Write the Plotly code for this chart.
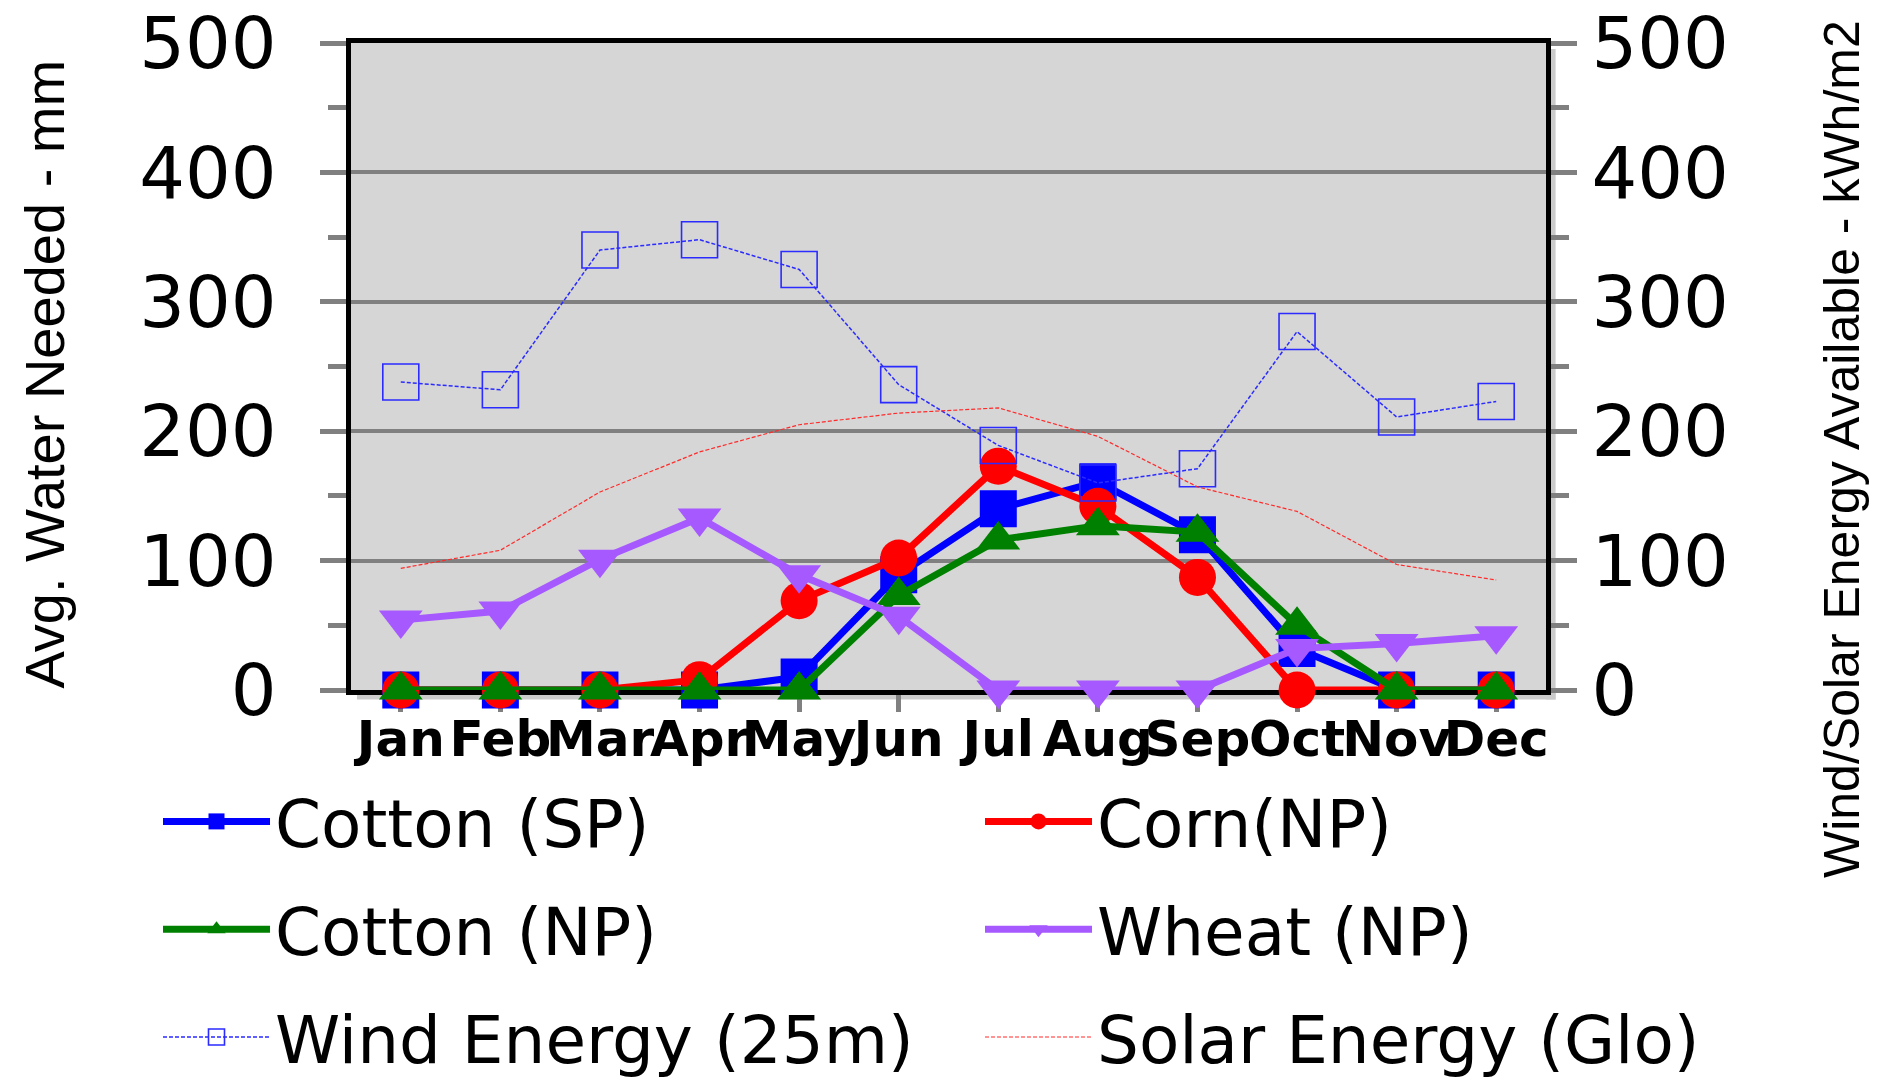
import plotly.graph_objects as go

# Monthly values
months = ["Jan", "Feb", "Mar", "Apr", "May", "Jun", "Jul", "Aug", "Sep", "Oct", "Nov", "Dec"]
cotton_sp = [0, 0, 0, 0, 10, 89, 140, 161, 120, 32, 0, 0]
corn_np = [0, 0, 0, 8, 69, 102, 173, 142, 87, 0, 0, 0]
cotton_np = [0, 0, 0, 0, 0, 73, 116, 127, 122, 50, 0, 0]
wheat_np = [54, 61, 101, 133, 89, 57, 0, 0, 0, 32, 36, 42]
wind_25m = [238, 232, 340, 348, 325, 236, 189, 160, 171, 277, 211, 223]
solar_glo = [94, 108, 153, 184, 205, 214, 218, 196, 157, 138, 97, 85]

W, H = 1899, 1085
L, R, T, B = 351, 353, 43, 395
PW, PH = W - L - R, H - T - B

GRID = "#808080"
TICKFONT = dict(family="DejaVu Sans", size=72, color="black")
TITLEFONT = dict(family="Liberation Sans, Arial, sans-serif", size=56, color="black")

fig = go.Figure()

crops = [
    ("Cotton (SP)", cotton_sp, "#0000ff", "square", 37, "legend"),
    ("Corn(NP)", corn_np, "#ff0000", "circle", 37, "legend2"),
    ("Cotton (NP)", cotton_np, "#008000", "triangle-up", 38, "legend"),
    ("Wheat (NP)", wheat_np, "#a659ff", "triangle-down", 38, "legend2"),
]
for name, vals, color, symbol, size, leg in crops:
    fig.add_trace(go.Scatter(
        x=months, y=vals, name=name, mode="lines+markers",
        line=dict(color=color, width=7),
        marker=dict(symbol=symbol, size=size, color=color, line=dict(width=0)),
        legend=leg, legendgroup=name, cliponaxis=False,
    ))

fig.add_trace(go.Scatter(
    x=months, y=wind_25m, name="Wind Energy (25m)", mode="lines+markers", yaxis="y2",
    line=dict(color="#2b2bff", width=1.5, dash="4px,2px"),
    marker=dict(symbol="square-open", size=36, color="#2b2bff", line=dict(width=1.6)),
    legend="legend", legendgroup="wind", cliponaxis=False,
))
fig.add_trace(go.Scatter(
    x=months, y=solar_glo, name="Solar Energy (Glo)", mode="lines", yaxis="y2",
    line=dict(color="#ff2a2a", width=1.2, dash="4px,2px"),
    legend="legend2", legendgroup="solar", cliponaxis=False,
))

tick_common = dict(ticks="outside", tickwidth=5, tickcolor=GRID)
minor_out = dict(ticks="outside", ticklen=18, tickwidth=5, tickcolor=GRID, dtick=50, showgrid=False)
minor_in = dict(ticks="inside", ticklen=18, tickwidth=5, tickcolor=GRID, dtick=50, showgrid=False)

legend_common = dict(
    xref="container", yref="container", xanchor="left", yanchor="top",
    font=dict(family="DejaVu Sans", size=66, color="black"),
    bgcolor="rgba(0,0,0,0)", borderwidth=0, tracegroupgap=19,
    itemwidth=107, itemsizing="trace",
)

fig.update_layout(
    width=W, height=H,
    margin=dict(l=L, r=R, t=T, b=B, pad=0, autoexpand=False),
    paper_bgcolor="white", plot_bgcolor="#d6d6d6",
    showlegend=True,
    xaxis=dict(
        type="category", categoryorder="array", categoryarray=months,
        range=[-0.5, len(months) - 0.5],
        showline=True, linecolor="black", linewidth=5, mirror=True,
        showgrid=False, zeroline=False, layer="below traces",
        ticklen=17, ticklabelstandoff=-16, tickangle=0, **tick_common,
        tickfont=dict(family="DejaVu Sans", size=50, color="black", weight="bold"),
    ),
    xaxis2=dict(
        overlaying="x", anchor="y", side="bottom",
        range=[-0.5, len(months) - 0.5], tickvals=list(range(len(months))),
        ticks="inside", ticklen=17, tickwidth=5, tickcolor=GRID,
        showticklabels=False, showgrid=False, zeroline=False, showline=False,
        layer="below traces",
    ),
    yaxis=dict(
        range=[0, 500], dtick=100, showline=True, linecolor="black", linewidth=5,
        showgrid=True, gridcolor=GRID, gridwidth=4, zeroline=False,
        ticklen=26, ticklabelstandoff=29, minor=minor_out, tickfont=TICKFONT,
        layer="below traces", **tick_common,
    ),
    yaxis2=dict(
        overlaying="y", side="right", anchor="x",
        range=[0, 500], dtick=100, showline=True, linecolor="black", linewidth=5,
        showgrid=False, zeroline=False,
        ticklen=26, ticklabelstandoff=0, minor=minor_out, tickfont=TICKFONT,
        layer="below traces", **tick_common,
    ),
    yaxis3=dict(
        overlaying="y", side="left", anchor="x", range=[0, 500], dtick=100,
        ticks="inside", ticklen=26, tickwidth=5, tickcolor=GRID, minor=minor_in,
        showticklabels=False, showgrid=False, zeroline=False, showline=False,
        layer="below traces",
    ),
    yaxis4=dict(
        overlaying="y", side="right", anchor="x", range=[0, 500], dtick=100,
        ticks="inside", ticklen=26, tickwidth=5, tickcolor=GRID, minor=minor_in,
        showticklabels=False, showgrid=False, zeroline=False, showline=False,
        layer="below traces",
    ),
    legend=dict(x=158 / W, y=1 - 772 / H, **legend_common),
    legend2=dict(x=980 / W, y=1 - 772 / H, **legend_common),
)

# soft drop shadow along the right and bottom edges of the plot frame
sx, sy = 6 / PW, 6 / PH
fig.add_shape(type="rect", xref="paper", yref="paper", layer="below",
              x0=1, x1=1 + 1.6 * sx, y0=-1.6 * sy, y1=1 - sy,
              fillcolor="#cbcbcb", line=dict(width=0))
fig.add_shape(type="rect", xref="paper", yref="paper", layer="below",
              x0=sx, x1=1 + 1.6 * sx, y0=-1.6 * sy, y1=0,
              fillcolor="#cbcbcb", line=dict(width=0))

# rotated axis titles
fig.add_annotation(
    text="Avg. Water Needed - mm", textangle=-90, showarrow=False,
    xref="paper", yref="paper", x=(44 - L) / PW, y=(H - B - 690) / PH,
    xanchor="center", yanchor="bottom", font=TITLEFONT,
)
fig.add_annotation(
    text="Wind/Solar Energy Available - kWh/m2", textangle=-90, showarrow=False,
    xref="paper", yref="paper", x=(1842 - L) / PW, y=(H - B - 880) / PH,
    xanchor="center", yanchor="bottom", font=dict(TITLEFONT, size=50),
)

fig.write_html("out.html")
